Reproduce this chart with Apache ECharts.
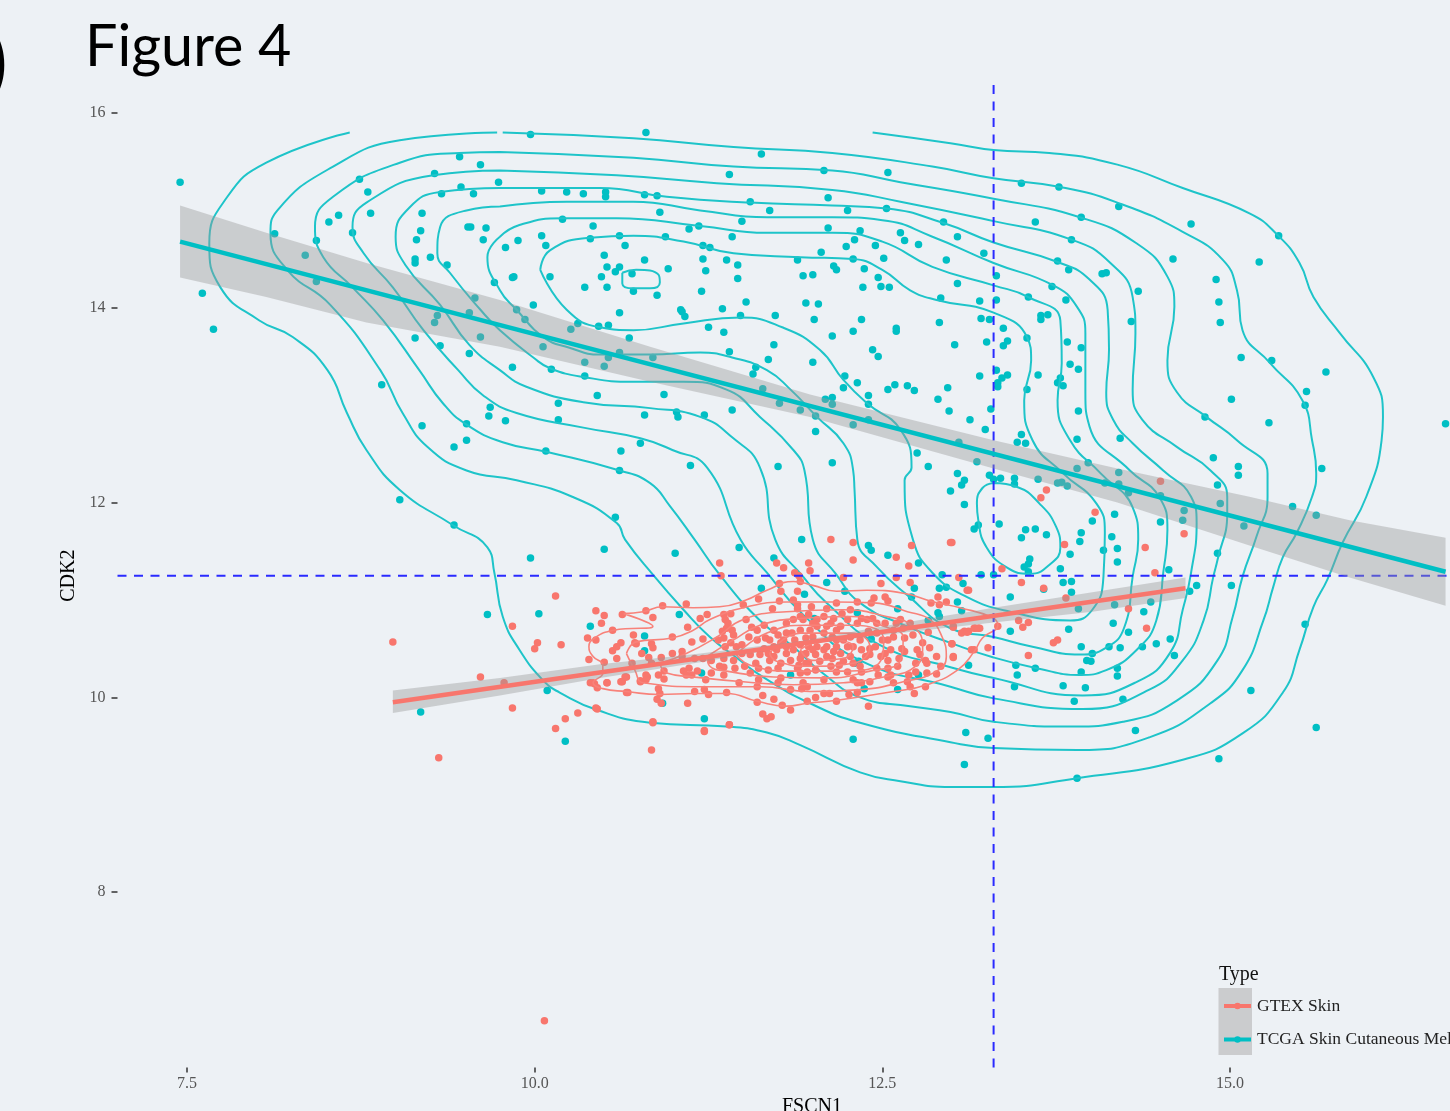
<!DOCTYPE html>
<html>
<head>
<meta charset="utf-8">
<title>Figure 4</title>
<script src="https://cdn.jsdelivr.net/npm/echarts@6/dist/echarts.min.js"></script>
<style>
  html, body { margin: 0; padding: 0; background: #edf1f5; }
  #chart { width: 1450px; height: 1111px; }
</style>
</head>
<body>
<div id="chart"></div>
<script>
const xTicks = [7.5, 10, 12.5, 15];
const yTicks = [8, 10, 12, 14, 16];
const cutX = 13.3;
const cutY = 11.25;

// points: [FSCN1, CDK2]
const tcgaPoints = [
  [7.45,15.29],[7.61,14.15],[7.69,13.78],[8.74,15.32],[8.80,15.19],[8.59,14.95],[8.52,14.88],[8.82,14.97],[8.13,14.76],[8.43,14.69],
  [8.69,14.77],[8.35,14.54],[8.43,14.27],[9.46,15.55],[9.61,15.47],[9.28,15.38],[9.47,15.24],[9.33,15.17],[9.56,15.17],[9.74,15.29],
  [9.19,14.97],[9.18,14.79],[9.15,14.70],[9.14,14.50],[9.14,14.46],[9.25,14.52],[9.37,14.44],[9.52,14.83],[9.54,14.83],[9.65,14.82],
  [9.63,14.70],[9.71,14.26],[9.57,14.10],[9.53,13.95],[9.30,13.92],[9.28,13.85],[9.14,13.69],[9.32,13.61],[9.61,13.70],[9.53,13.53],
  [9.97,15.78],[10.80,15.80],[11.63,15.58],[11.40,15.37],[12.08,15.41],[12.54,15.39],[10.05,15.20],[10.23,15.19],[10.35,15.17],[10.51,15.19],
  [10.51,15.14],[10.79,15.16],[10.88,15.15],[10.90,14.98],[11.55,15.09],[11.69,15.00],[12.11,15.13],[12.25,15.00],[12.53,15.02],[11.49,14.89],
  [10.20,14.91],[10.42,14.84],[11.11,14.81],[11.18,14.84],[11.42,14.73],[12.11,14.82],[12.34,14.79],[12.30,14.70],[12.24,14.63],[12.45,14.64],
  [12.63,14.77],[12.66,14.69],[12.76,14.65],[12.94,14.88],[13.04,14.73],[13.23,14.56],[9.79,14.62],[9.88,14.69],[10.05,14.74],[10.08,14.64],
  [10.40,14.71],[10.61,14.74],[10.65,14.64],[10.94,14.73],[11.21,14.64],[11.26,14.62],[10.50,14.54],[10.79,14.49],[10.52,14.42],[10.61,14.42],
  [10.58,14.37],[10.96,14.40],[11.21,14.50],[11.38,14.49],[11.46,14.44],[11.23,14.38],[11.46,14.30],[12.06,14.57],[11.89,14.49],[12.29,14.50],
  [12.15,14.43],[12.17,14.39],[12.37,14.40],[12.51,14.51],[11.93,14.33],[12.00,14.34],[12.47,14.31],[12.36,14.21],[12.49,14.22],[12.55,14.21],
  [12.96,14.49],[13.04,14.25],[12.92,14.10],[13.20,14.07],[13.21,13.89],[13.27,13.88],[12.91,13.85],[13.02,13.62],[13.25,13.65],[13.20,13.30],
  [12.97,13.18],[12.90,13.06],[12.98,12.94],[13.13,12.85],[13.24,12.75],[13.28,12.96],[13.05,12.62],[13.18,12.42],[9.84,14.31],[9.85,14.32],
  [10.11,14.32],[10.36,14.21],[10.48,14.32],[10.52,14.21],[10.70,14.35],[10.71,14.17],[10.88,14.13],[11.20,14.17],[9.99,14.03],[9.87,13.98],
  [9.93,13.88],[10.61,13.95],[11.05,13.98],[11.06,13.96],[11.08,13.91],[11.35,13.99],[11.52,14.06],[11.48,13.92],[11.73,13.92],[11.95,14.05],
  [12.04,14.04],[12.01,13.88],[12.35,13.88],[12.29,13.76],[12.60,13.79],[12.60,13.76],[12.14,13.71],[10.31,13.84],[10.46,13.81],[10.53,13.82],
  [10.26,13.78],[10.06,13.60],[10.68,13.69],[11.25,13.80],[11.36,13.75],[11.72,13.62],[11.40,13.55],[11.68,13.47],[12.00,13.44],[12.43,13.57],
  [12.47,13.50],[11.59,13.39],[11.57,13.32],[10.61,13.54],[10.53,13.49],[10.36,13.44],[10.50,13.40],[10.85,13.49],[9.84,13.39],[10.12,13.37],
  [10.36,13.30],[10.45,13.10],[10.93,13.11],[10.17,13.02],[10.17,12.85],[9.79,12.84],[10.79,12.90],[11.02,12.93],[11.03,12.88],[11.22,12.90],
  [11.42,12.95],[11.64,13.17],[11.76,13.02],[11.91,12.95],[12.02,12.89],[12.02,12.73],[12.09,13.06],[12.14,13.08],[12.14,13.01],[12.40,13.10],
  [12.40,13.01],[12.22,13.18],[12.23,13.30],[12.32,13.23],[12.54,13.16],[12.59,13.21],[12.68,13.20],[12.73,13.15],[12.29,12.80],[12.40,12.85],
  [10.76,12.61],[10.62,12.53],[10.08,12.53],[11.12,12.38],[11.75,12.37],[12.14,12.41],[12.75,12.51],[12.83,12.37],
  [13.60,14.88],[13.50,15.28],[13.77,15.24],[14.20,15.04],[13.93,14.93],[14.72,14.86],[15.35,14.74],[13.86,14.70],[14.59,14.50],[15.21,14.47],
  [13.76,14.48],[13.84,14.39],[14.08,14.35],[14.11,14.36],[14.90,14.29],[13.32,14.33],[13.72,14.22],[13.55,14.11],[13.32,14.08],[13.82,14.08],
  [14.34,14.17],[14.92,14.06],[14.29,13.86],[14.93,13.85],[13.64,13.92],[13.64,13.88],[13.69,13.93],[13.37,13.79],[13.54,13.69],[13.83,13.65],
  [13.40,13.66],[13.37,13.61],[13.93,13.59],[13.85,13.42],[13.91,13.37],[15.08,13.49],[15.30,13.46],[15.69,13.34],[13.32,13.36],[13.40,13.31],
  [13.36,13.28],[13.33,13.23],[13.33,13.19],[13.62,13.31],[13.78,13.28],[13.76,13.23],[13.80,13.20],[13.54,13.16],[15.01,13.06],[15.55,13.14],
  [15.54,13.00],[13.91,12.94],[14.82,12.88],[15.28,12.82],[16.55,12.81],[13.50,12.70],[13.47,12.62],[13.53,12.61],[13.90,12.65],[14.21,12.66],
  [14.88,12.46],[15.06,12.37],[15.66,12.35],[13.90,12.35],[13.98,12.41],
  [15.06,12.28],[14.20,12.31],[13.04,12.30],[13.27,12.28],[13.35,12.25],[13.30,12.24],[13.45,12.25],[13.45,12.19],[13.09,12.23],[13.07,12.18],
  [12.99,12.12],[13.62,12.24],[13.76,12.20],[13.79,12.21],[13.83,12.17],[14.10,12.20],[14.20,12.19],[14.27,12.10],[14.50,12.07],[14.91,12.18],
  [14.93,11.99],[14.67,11.92],[14.66,11.82],[15.10,11.76],[15.45,11.96],[15.62,11.87],[13.09,11.98],[14.17,11.88],[14.01,11.81],[14.50,11.80],
  [13.34,11.78],[13.19,11.77],[13.16,11.73],[13.53,11.72],[13.60,11.73],[13.50,11.64],[13.68,11.67],[13.93,11.69],[13.92,11.60],[14.15,11.65],
  [14.09,11.51],[14.19,11.53],[13.85,11.47],[14.19,11.39],[14.91,11.48],[13.56,11.42],[13.55,11.37],[13.52,11.34],[13.55,11.29],[13.78,11.32],
  [14.56,11.31],[13.21,11.26],[13.30,11.26],[13.08,11.17],[13.80,11.18],[13.86,11.19],[13.86,11.08],[13.66,11.11],[13.42,11.03],[13.04,10.98],
  [13.07,10.89],[14.76,11.15],[14.71,11.09],[15.01,11.15],[14.17,10.95],[13.91,10.91],[14.43,10.98],[14.38,10.88],[14.16,10.76],[13.42,10.68],
  [13.84,10.70],[14.27,10.67],[13.93,10.52],[14.13,10.52],[14.21,10.51],[14.37,10.52],[14.47,10.55],[14.57,10.60],[14.60,10.43],[15.54,10.75],
  [14.01,10.45],[13.97,10.38],[14.00,10.37],[13.12,10.33],[13.46,10.33],[13.60,10.30],[13.47,10.23],[13.93,10.26],[14.19,10.30],[14.19,10.22],
  [13.45,10.11],[13.80,10.12],[13.96,10.10],[13.88,9.96],[14.23,9.98],[15.15,10.07],[14.32,9.66],[15.62,9.69],[13.10,9.64],[13.26,9.58],
  [14.92,9.37],[13.09,9.31],[13.90,9.17],
  [8.90,13.21],[9.19,12.79],[9.42,12.57],[9.51,12.64],[9.51,12.81],[9.68,12.98],[9.67,12.89],[10.61,12.33],[10.58,11.85],[10.50,11.52],
  [9.03,12.03],[9.42,11.77],[9.97,11.43],[9.66,10.85],[10.03,10.86],[10.40,10.73],[10.79,10.63],[10.79,10.48],[10.09,10.07],[9.18,9.85],[10.22,9.55],
  [11.01,11.48],[11.47,11.54],[11.92,11.62],[11.72,11.43],[12.40,11.56],[12.42,11.51],[12.54,11.46],[12.76,11.38],[11.63,11.12],[11.94,11.06],
  [12.10,11.18],[12.23,11.09],[12.93,11.26],[12.73,11.12],[12.71,11.03],[12.91,11.12],[12.96,11.13],[12.61,10.91],[12.32,10.87],[12.90,10.87],
  [12.83,10.79],[12.91,10.83],[12.01,10.81],[11.04,10.85],[11.20,10.25],[11.84,10.23],[12.30,10.35],[12.33,10.37],[12.42,10.60],[12.76,10.23],
  [12.61,10.08],[12.37,10.09],[10.92,9.94],[11.22,9.78],[12.29,9.57]
];

const gtexPoints = [
  [8.98,10.57],[10.15,11.04],[9.84,10.73],[10.44,10.89],[10.50,10.84],[10.48,10.76],[10.63,10.85],[10.80,10.89],[10.56,10.69],[10.71,10.64],
  [10.38,10.61],[10.44,10.59],[10.02,10.56],[10.00,10.50],[10.19,10.54],[10.62,10.56],[10.59,10.52],[10.56,10.48],[10.73,10.55],[10.59,10.40],
  [10.39,10.39],[10.50,10.36],[9.61,10.21],[9.78,10.15],[10.40,10.15],[10.43,10.14],[10.45,10.10],[10.52,10.15],[10.63,10.16],[10.66,10.21],
  [10.66,10.05],[9.84,9.89],[10.45,9.88],[10.31,9.84],[10.22,9.78],[10.15,9.68],[9.31,9.38],[10.76,10.16],[10.81,10.21],[10.84,9.46],
  [11.40,9.72],[10.85,9.75],[11.22,9.65],[10.07,6.68],
  [11.33,11.38],[11.34,11.25],[11.74,11.38],[11.79,11.33],[11.87,11.28],[11.97,11.38],[11.98,11.30],[11.90,11.25],[11.91,11.19],[11.76,11.17],
  [11.89,11.09],[11.77,11.09],[11.76,10.99],[11.61,11.01],[11.50,10.95],[12.22,11.23],[12.29,11.59],[12.13,11.62],[12.29,11.41],[12.60,11.44],
  [12.71,11.56],[13.00,11.59],[12.69,11.35],[12.49,11.17],[12.60,11.23],[12.70,11.18],[12.90,11.03],[12.85,10.97],[13.12,11.10],[12.96,10.98],
  [12.91,10.95],[12.44,11.02],[12.42,10.97],[12.52,11.03],[12.54,10.99],[12.17,10.97],[12.32,10.98],[11.99,10.93],[11.89,10.95],[11.71,10.91],[11.86,11.00],
  [10.85,10.82],[10.92,10.94],[11.09,10.96],[11.10,10.72],[11.19,10.81],[11.24,10.85],[10.99,10.62],[10.72,10.56],[10.84,10.55],[10.85,10.51],
  [10.77,10.45],[10.82,10.41],[10.91,10.41],[10.99,10.45],[11.06,10.47],[11.13,10.57],[11.21,10.60],[10.84,10.35],[10.70,10.35],
  [10.65,10.21],[10.62,10.16],[10.42,10.15],[10.52,10.15],[10.76,10.17],[10.80,10.23],[10.80,10.18],[10.89,10.23],[10.93,10.27],[10.93,10.19],
  [10.89,10.09],[10.90,10.04],[10.67,10.05],[10.88,9.98],[10.91,9.94],[11.10,9.94],[11.15,10.06],[11.22,10.08],[11.25,10.03],[11.38,10.05],
  [10.44,9.89],[10.85,9.74],[11.22,9.66],[11.40,9.72],[11.64,9.83],[11.67,9.78],[11.70,9.80],[12.40,9.91],[11.60,9.95],[11.64,10.02],
  [11.72,9.98],[11.78,9.92],[11.84,9.87],[11.96,9.96],[12.02,10.00],[12.08,10.04],[12.12,10.04],[12.17,9.96],[12.26,10.03],[12.32,10.05],
  [12.73,10.04],[12.70,10.11],[12.81,10.11],[12.58,10.15],
  [11.36,10.85],[11.41,10.86],[11.37,10.80],[11.39,10.76],[11.38,10.71],[11.35,10.68],[11.36,10.61],[11.32,10.59],[11.42,10.69],[11.43,10.64],
  [11.41,10.56],[11.37,10.52],[11.45,10.52],[11.49,10.54],[11.52,10.80],[11.56,10.72],[11.60,10.69],[11.65,10.74],[11.54,10.62],[11.60,10.59],
  [11.66,10.61],[11.72,10.69],[11.69,10.59],[11.75,10.64],[11.81,10.76],[11.86,10.80],[11.89,10.91],[11.93,10.80],[11.97,10.85],[12.03,10.80],
  [12.03,10.73],[12.08,10.83],[12.10,10.91],[12.15,10.81],[12.17,10.69],[11.98,10.69],[11.91,10.69],[11.85,10.66],[11.79,10.59],[11.87,10.59],
  [11.95,10.61],[12.00,10.62],[12.08,10.66],[12.14,10.62],[12.20,10.73],[12.25,10.80],[12.27,10.90],[12.32,10.76],[12.35,10.81],[12.39,10.80],
  [12.43,10.81],[12.46,10.76],[12.52,10.76],[12.63,10.80],[12.70,10.76],[12.72,10.64],[12.66,10.61],[12.64,10.50],[12.66,10.47],[12.75,10.49],
  [12.79,10.56],[12.77,10.44],[12.74,10.35],[12.84,10.51],[12.83,10.67],[12.89,10.42],[13.01,10.42],[13.00,10.55],[12.92,10.32],[12.89,10.24],
  [12.82,10.35],[13.09,10.68],[13.12,10.68],[13.17,10.71],[13.20,10.71],[13.01,10.73],[13.16,10.49],[13.33,10.73],
  [12.46,10.66],[12.50,10.59],[12.54,10.59],[12.45,10.52],[12.41,10.50],[12.52,10.45],[12.49,10.42],[12.41,10.44],[12.58,10.62],[12.58,10.69],
  [12.29,10.52],[12.34,10.59],[12.25,10.52],[12.17,10.52],[12.20,10.45],[12.27,10.42],[12.29,10.35],[12.22,10.37],[12.14,10.40],[12.08,10.49],
  [12.03,10.52],[12.10,10.52],[11.95,10.45],[11.86,10.49],[11.81,10.45],[11.74,10.49],[11.68,10.45],[11.65,10.50],[11.62,10.44],[11.55,10.44],
  [11.49,10.45],[11.43,10.38],[11.36,10.40],[11.27,10.38],[11.21,10.40],[11.15,10.40],[11.06,10.42],[11.33,10.32],[11.27,10.25],[11.17,10.27],
  [11.11,10.30],[11.07,10.27],[11.13,10.23],[11.09,10.23],[11.23,10.18],[11.36,10.31],[11.51,10.32],[11.59,10.35],[11.69,10.38],[11.77,10.35],
  [11.84,10.38],[11.91,10.40],[11.97,10.35],[12.05,10.37],[12.13,10.32],[12.19,10.33],[12.25,10.26],[12.34,10.32],[12.46,10.30],[12.54,10.30],
  [12.56,10.23],[12.61,10.32],[12.47,10.23],[11.60,10.11],[11.61,10.18],[11.75,10.15],[11.84,10.08],[11.47,10.15],[11.36,10.23],[11.44,10.30],
  [11.91,10.25],[11.93,10.15],[11.90,10.33],[11.96,10.11],[12.08,10.18],[12.17,10.26],[12.29,10.18],[12.35,10.15],[12.41,10.16],[12.32,10.15],
  [12.54,10.21],[12.68,10.16],[12.69,10.23],[12.74,10.26],[12.81,10.38],
  [11.72,10.52],[11.77,10.56],[11.81,10.52],[11.91,10.54],[11.97,10.52],[12.02,10.44],[12.10,10.42],[12.15,10.47],[12.22,10.59],[12.27,10.62],
  [12.35,10.49],[12.10,10.73],[12.00,10.76],[11.91,10.83],[11.81,10.66],[11.72,10.42],[11.89,10.30],[11.96,10.26],[12.02,10.28],[11.75,10.30],
  [11.68,10.28],[11.61,10.30],[11.55,10.25],[12.17,10.59],[12.13,10.76],[12.21,10.86],[12.40,10.68],[12.60,10.76],[12.65,10.71],[12.82,10.25],
  [12.56,10.49],[12.62,10.40],[12.54,10.38],[12.38,10.42],[12.35,10.26],[11.77,10.20],[11.92,10.09],[11.92,10.44],[11.95,10.35],[12.00,10.49],
  [14.50,12.22],[13.68,12.13],[13.64,12.05],[14.03,11.90],[14.67,11.68],[12.99,11.59],[13.81,11.57],[14.39,11.54],[13.36,11.32],[14.46,11.28],
  [13.05,11.23],[13.50,11.18],[13.11,11.10],[13.66,11.12],[13.82,11.02],[14.27,10.91],[13.48,10.79],[13.55,10.77],[13.51,10.72],[14.40,10.71],
  [13.01,10.72],[13.16,10.71],[13.19,10.71],[13.07,10.66],[13.11,10.67],[13.76,10.59],[13.73,10.56],[13.26,10.51],[13.14,10.49],[13.00,10.55],
  [13.01,10.41],[13.55,10.43]
];

// density contours, outermost first. the first two leave the top of the panel, so they stay open
const tcgaContours = [
  [[12.43,15.80],[12.99,15.69],[13.30,15.62],[13.70,15.59],[14.19,15.47],[14.66,15.23],[15.14,14.97],[15.34,14.75],[15.50,14.46],[15.60,14.11],[15.79,13.74],[16.03,13.29],[16.10,12.88],[16.09,12.64],[15.98,12.06],[15.81,11.59],[15.70,11.21],[15.60,10.93],[15.50,10.49],[15.38,10.05],[15.09,9.63],[14.66,9.36],[13.90,9.17],[13.30,9.08],[12.99,9.08],[12.63,9.14],[12.34,9.23],[11.91,9.51],[11.67,9.64],[11.38,9.70],[10.83,9.74],[10.45,9.87],[10.18,10.05],[10.07,10.16],[9.89,10.49],[9.77,10.83],[9.71,11.28],[9.66,11.54],[9.41,11.77],[9.03,12.13],[8.79,12.54],[8.65,12.92],[8.51,13.36],[8.26,13.70],[8.02,13.87],[7.74,14.21],[7.66,14.66],[7.79,15.14],[8.07,15.49],[8.67,15.80]],
  [[9.77,15.80],[10.71,15.74],[11.43,15.65],[12.14,15.59],[12.86,15.45],[13.30,15.33],[13.78,15.24],[14.19,15.08],[14.66,14.78],[14.95,14.49],[15.05,14.18],[15.09,13.77],[15.29,13.43],[15.52,13.05],[15.59,12.64],[15.62,12.30],[15.59,12.06],[15.48,11.69],[15.38,11.44],[15.31,11.13],[15.24,10.79],[15.09,10.28],[14.86,9.94],[14.42,9.59],[13.90,9.46],[13.30,9.48],[12.99,9.54],[12.34,9.74],[11.98,9.94],[11.64,10.21],[11.45,10.41],[11.26,10.62],[11.07,10.90],[10.85,11.26],[10.65,11.62],[10.59,11.79],[10.27,12.06],[9.87,12.23],[9.51,12.33],[9.23,12.57],[9.05,12.92],[8.89,13.36],[8.53,14.03],[8.22,14.39],[8.10,14.77],[8.15,15.00],[8.55,15.45],[9.03,15.72],[9.73,15.80]],
  [[9.75,15.60],[10.71,15.54],[11.43,15.45],[12.14,15.41],[12.63,15.29],[13.30,15.12],[13.92,14.93],[14.33,14.66],[14.55,14.32],[14.60,14.01],[14.55,13.46],[14.62,13.13],[14.83,12.88],[15.05,12.64],[15.27,12.30],[15.27,12.06],[15.19,11.65],[15.09,11.24],[15.02,10.83],[14.91,10.38],[14.62,9.97],[14.23,9.75],[13.87,9.70],[13.30,9.75],[12.99,9.85],[12.70,9.91],[12.34,10.00],[12.07,10.25],[11.86,10.52],[11.62,10.79],[11.33,11.26],[11.15,11.62],[10.97,11.97],[10.83,12.20],[10.61,12.33],[10.09,12.52],[9.77,12.62],[9.51,12.80],[9.34,13.02],[9.17,13.36],[8.91,13.87],[8.69,14.21],[8.48,14.52],[8.42,14.83],[8.55,15.14],[9.03,15.49],[9.46,15.59],[9.75,15.60]],
  [[9.75,15.41],[10.59,15.36],[11.31,15.28],[12.14,15.21],[12.63,15.09],[13.30,14.89],[13.86,14.70],[14.14,14.46],[14.30,14.11],[14.32,13.74],[14.30,13.16],[14.37,12.85],[14.62,12.57],[14.86,12.33],[14.98,12.06],[14.98,11.89],[14.91,11.41],[14.88,11.24],[14.81,10.79],[14.66,10.38],[14.42,10.08],[13.94,9.88],[13.30,9.99],[12.99,10.11],[12.34,10.38],[11.93,10.85],[11.67,11.28],[11.48,11.62],[11.24,12.36],[10.99,12.54],[10.76,12.66],[10.35,12.77],[9.87,12.92],[9.63,13.10],[9.45,13.36],[9.20,13.77],[8.98,14.21],[8.77,14.56],[8.69,14.83],[8.79,15.08],[9.27,15.36],[9.75,15.41]],
  [[9.75,15.23],[10.47,15.23],[10.95,15.14],[11.55,15.08],[12.14,15.05],[12.53,15.02],[12.94,14.87],[13.30,14.67],[13.76,14.47],[13.99,14.29],[14.12,13.98],[14.13,13.57],[14.11,13.13],[14.16,12.85],[14.30,12.61],[14.52,12.33],[14.72,12.06],[14.76,11.79],[14.72,11.28],[14.66,10.90],[14.57,10.46],[14.33,10.16],[13.94,10.02],[13.30,10.20],[12.99,10.31],[12.48,10.54],[12.10,10.97],[11.93,11.24],[11.73,11.62],[11.62,12.36],[11.42,12.67],[11.19,12.88],[10.83,12.97],[10.35,13.03],[9.94,13.19],[9.75,13.36],[9.53,13.62],[9.32,14.03],[9.07,14.44],[9.00,14.73],[9.10,15.03],[9.32,15.19],[9.75,15.23]],
  [[9.75,15.04],[10.23,15.09],[10.71,15.09],[11.19,15.00],[11.67,14.93],[12.14,14.93],[12.50,14.90],[12.86,14.73],[13.30,14.46],[13.73,14.23],[13.90,14.01],[13.96,13.74],[13.96,13.13],[13.99,12.78],[14.28,12.33],[14.49,12.06],[14.55,11.72],[14.52,11.28],[14.47,10.79],[14.33,10.49],[14.11,10.28],[13.92,10.23],[13.61,10.30],[13.30,10.41],[12.99,10.56],[12.66,10.74],[12.34,10.97],[12.17,11.26],[12.00,11.62],[11.94,12.33],[11.86,12.54],[11.62,12.88],[11.38,13.16],[11.07,13.24],[10.71,13.24],[10.35,13.29],[10.11,13.38],[9.99,13.49],[9.75,13.77],[9.61,13.98],[9.39,14.36],[9.30,14.56],[9.32,14.83],[9.51,15.00],[9.75,15.04]],
  [[9.75,14.73],[9.89,14.85],[10.20,14.92],[10.59,14.92],[11.19,14.84],[11.67,14.77],[12.14,14.77],[12.50,14.68],[12.86,14.42],[13.30,14.23],[13.55,14.11],[13.78,13.87],[13.79,13.43],[13.76,13.05],[13.85,12.64],[14.07,12.30],[14.30,11.95],[14.34,11.62],[14.30,11.24],[14.24,10.72],[14.11,10.51],[13.92,10.44],[13.58,10.52],[13.30,10.62],[12.99,10.71],[12.68,11.05],[12.46,11.34],[12.32,11.62],[12.30,12.13],[12.29,12.33],[12.22,12.61],[12.03,12.88],[11.84,13.16],[11.67,13.36],[11.42,13.49],[11.19,13.54],[10.83,13.52],[10.47,13.52],[10.25,13.59],[10.06,13.70],[9.87,13.98],[9.75,14.18],[9.66,14.52],[9.75,14.73]],
  [[10.04,14.39],[10.11,14.59],[10.40,14.72],[10.71,14.74],[11.07,14.68],[11.43,14.56],[11.91,14.52],[12.29,14.50],[12.50,14.39],[12.70,14.18],[12.89,14.08],[13.30,13.95],[13.54,13.70],[13.57,13.46],[13.52,13.05],[13.58,12.64],[13.80,12.30],[14.04,11.99],[14.10,11.69],[14.09,11.24],[14.01,10.90],[13.85,10.79],[13.42,10.88],[13.11,11.03],[12.86,11.28],[12.72,11.62],[12.66,12.23],[12.71,12.36],[12.63,12.75],[12.39,13.02],[12.22,13.26],[12.05,13.57],[11.78,13.80],[11.48,13.90],[11.07,13.84],[10.71,13.77],[10.47,13.80],[10.23,13.98],[10.04,14.39]],
  [[13.30,12.20],[13.47,12.16],[13.63,11.99],[13.75,11.75],[13.78,11.54],[13.70,11.36],[13.56,11.27],[13.40,11.33],[13.25,11.54],[13.19,11.82],[13.18,11.99],[13.22,12.15],[13.30,12.20]],
  [[10.63,14.36],[10.73,14.39],[10.89,14.34],[10.90,14.26],[10.83,14.20],[10.71,14.20],[10.63,14.25],[10.63,14.36]]
];

const gtexContours = [
  [[10.64,10.86],[10.78,10.88],[10.92,10.93],[11.14,10.92],[11.33,10.93],[11.52,11.00],[11.67,11.10],[11.86,11.19],[12.00,11.15],[12.17,11.09],[12.39,11.10],[12.65,11.07],[12.87,10.98],[13.06,10.92],[13.29,10.82],[13.33,10.74],[13.22,10.61],[13.16,10.47],[13.04,10.28],[12.82,10.13],[12.58,10.06],[12.17,9.97],[11.96,9.94],[11.81,9.91],[11.60,9.96],[11.38,10.04],[11.14,10.04],[10.90,10.03],[10.66,10.06],[10.49,10.09],[10.42,10.15],[10.49,10.25],[10.49,10.33],[10.42,10.42],[10.39,10.52],[10.43,10.61],[10.57,10.69],[10.85,10.73],[10.64,10.86]],
  [[10.66,10.45],[10.73,10.57],[10.99,10.61],[11.14,10.69],[11.26,10.80],[11.50,10.92],[11.81,10.98],[12.17,10.98],[12.44,10.97],[12.68,10.88],[12.84,10.80],[12.93,10.62],[12.96,10.42],[12.89,10.27],[12.65,10.16],[12.34,10.08],[11.98,10.06],[11.62,10.11],[11.21,10.11],[10.78,10.15],[10.72,10.28],[10.66,10.45]],
  [[10.90,10.35],[11.09,10.45],[11.31,10.62],[11.50,10.80],[11.81,10.88],[12.22,10.90],[12.53,10.83],[12.72,10.73],[12.79,10.52],[12.74,10.32],[12.51,10.21],[12.22,10.15],[11.86,10.13],[11.50,10.16],[11.14,10.21],[10.95,10.25],[10.90,10.35]],
  [[11.24,10.42],[11.43,10.59],[11.62,10.74],[11.91,10.81],[12.27,10.83],[12.51,10.73],[12.65,10.61],[12.63,10.38],[12.41,10.27],[12.10,10.20],[11.72,10.21],[11.38,10.27],[11.26,10.32],[11.24,10.42]],
  [[11.45,10.44],[11.67,10.66],[11.96,10.74],[12.29,10.74],[12.51,10.59],[12.49,10.38],[12.22,10.27],[11.86,10.27],[11.55,10.33],[11.45,10.44]],
  [[11.69,10.45],[11.91,10.66],[12.27,10.66],[12.41,10.52],[12.29,10.35],[11.98,10.32],[11.74,10.37],[11.69,10.45]],
  [[11.91,10.49],[12.10,10.59],[12.29,10.52],[12.22,10.40],[12.00,10.38],[11.91,10.49]]
];

// fit lines and confidence bands
const tcgaFit = [[7.45,14.68],[16.55,11.29]];
const gtexFit = [[8.98,9.95],[14.68,11.12]];
const tcgaBand = [ // x, upper, lower
  [7.45,15.05,14.31],[8.07,14.77,14.11],[8.79,14.46,13.85],[9.75,14.08,13.60],[10.83,13.60,13.24],[11.98,13.11,12.88],
  [13.30,12.64,12.35],[14.19,12.35,12.00],[15.14,12.06,11.56],[15.86,11.82,11.23],[16.55,11.64,10.94]
];
const gtexBand = [
  [8.98,10.07,9.84],[9.75,10.20,10.02],[10.47,10.34,10.20],[11.19,10.45,10.36],[11.91,10.58,10.54],
  [12.63,10.76,10.66],[13.30,10.92,10.77],[14.01,11.08,10.88],[14.68,11.23,11.02]
];

const GTEX_NAME = 'GTEX Skin';
const TCGA_NAME = 'TCGA Skin Cutaneous Mel';
const RED = '#f8766d';
const TEAL = '#00bfc4';
const BG = '#edf1f5';
const SERIF = '"Liberation Serif", serif';

function contourSeries(list, color, width, z, label) {
  return list.map((pts, i) => ({
    name: label + ' contour ' + (i + 1),
    type: 'line',
    data: pts,
    smooth: 0.5,
    showSymbol: false,
    symbol: 'none',
    silent: true,
    z: z,
    lineStyle: { color: color, width: width }
  }));
}

function bandSeries(rows, z) {
  return {
    name: 'band',
    type: 'custom',
    data: rows,
    z: z,
    silent: true,
    encode: { x: 0, y: [1, 2] },
    renderItem: function (params, api) {
      if (params.dataIndex !== 0) return null;
      const top = rows.map((r) => api.coord([r[0], r[1]]));
      const bottom = rows.map((r) => api.coord([r[0], r[2]])).reverse();
      return {
        type: 'polygon',
        shape: { points: top.concat(bottom) },
        style: { fill: 'rgba(153,153,153,0.41)' }
      };
    }
  };
}

function cutLine(pts) {
  return {
    name: 'cut',
    type: 'line',
    data: pts,
    showSymbol: false,
    symbol: 'none',
    silent: true,
    z: 6,
    lineStyle: { color: '#2a2aff', width: 2, type: [9, 7.5] }
  };
}

function fitSeries(name, pts, color) {
  return {
    name: name,
    type: 'line',
    data: pts,
    symbol: 'circle',
    showSymbol: false,
    silent: true,
    z: 9,
    itemStyle: { color: color },
    lineStyle: { color: color, width: 4.5 }
  };
}

const chart = echarts.init(document.getElementById('chart'), null, { renderer: 'canvas' });

chart.setOption({
  animation: false,
  backgroundColor: BG,
  title: {
    text: 'Figure 4',
    left: 85,
    top: 18,
    padding: 0,
    textStyle: { fontFamily: 'Lato', fontWeight: 'normal', fontSize: 57.5, color: '#000' }
  },
  grid: { left: 117.5, top: 83.8, width: 1335, height: 983.7, outerBoundsMode: 'none' },
  xAxis: {
    type: 'value',
    min: 7,
    max: 16.6,
    name: 'FSCN1',
    nameLocation: 'middle',
    nameGap: 28,
    nameTextStyle: { fontFamily: SERIF, fontSize: 20, color: '#000', padding: [0, 0, 0, 54] },
    axisLine: { show: false },
    splitLine: { show: false },
    axisTick: { show: true, length: 5, customValues: xTicks, lineStyle: { color: '#333', width: 1.5 } },
    axisLabel: {
      show: true,
      customValues: xTicks,
      margin: 8,
      fontFamily: SERIF,
      fontSize: 16,
      color: '#555',
      formatter: (v) => v.toFixed(1)
    }
  },
  yAxis: {
    type: 'value',
    min: 6.2,
    max: 16.3,
    name: 'CDK2',
    nameLocation: 'middle',
    nameGap: 31,
    nameRotate: 90,
    nameTextStyle: { fontFamily: SERIF, fontSize: 20, color: '#000' },
    axisLine: { show: false },
    splitLine: { show: false },
    axisTick: { show: true, length: 6, customValues: yTicks, lineStyle: { color: '#333', width: 1.5 } },
    axisLabel: {
      show: true,
      customValues: yTicks,
      margin: 12,
      fontFamily: SERIF,
      fontSize: 16,
      color: '#555'
    }
  },
  legend: {
    data: [GTEX_NAME, TCGA_NAME],
    orient: 'vertical',
    left: 1222,
    top: 997,
    padding: 0,
    itemWidth: 27,
    itemHeight: 8,
    itemGap: 15.5,
    selectedMode: false,
    lineStyle: { width: 4 },
    textStyle: { fontFamily: SERIF, fontSize: 17.5, color: '#222', padding: [0, 0, 0, 1] }
  },
  graphic: [
    { type: 'text', x: -13.5, y: 24, style: { text: ')', fontFamily: 'Lato', fontSize: 80, fill: '#000' } },
    { type: 'text', left: 1219, top: 965, style: { text: 'Type', fontFamily: SERIF, fontSize: 20, fill: '#111' } },
    { type: 'rect', left: 1218.5, top: 988, shape: { width: 33.5, height: 67 }, style: { fill: '#cbccce' }, z: 1 }
  ],
  series: [
    { name: 'tcga points', type: 'scatter', data: tcgaPoints, symbolSize: 7.5, silent: true, z: 2, itemStyle: { color: TEAL, opacity: 1 } },
    ...contourSeries(tcgaContours, '#1ec4c9', 2, 3, 'tcga'),
    { name: 'gtex points', type: 'scatter', data: gtexPoints, symbolSize: 7.5, silent: true, z: 4, itemStyle: { color: RED, opacity: 1 } },
    ...contourSeries(gtexContours, '#f8827a', 1.6, 5, 'gtex'),
    cutLine([[cutX, 6.2], [cutX, 16.3]]),
    cutLine([[7, cutY], [16.6, cutY]]),
    bandSeries(tcgaBand, 7),
    bandSeries(gtexBand, 7),
    fitSeries(GTEX_NAME, gtexFit, RED),
    fitSeries(TCGA_NAME, tcgaFit, TEAL)
  ]
});
</script>
</body>
</html>
